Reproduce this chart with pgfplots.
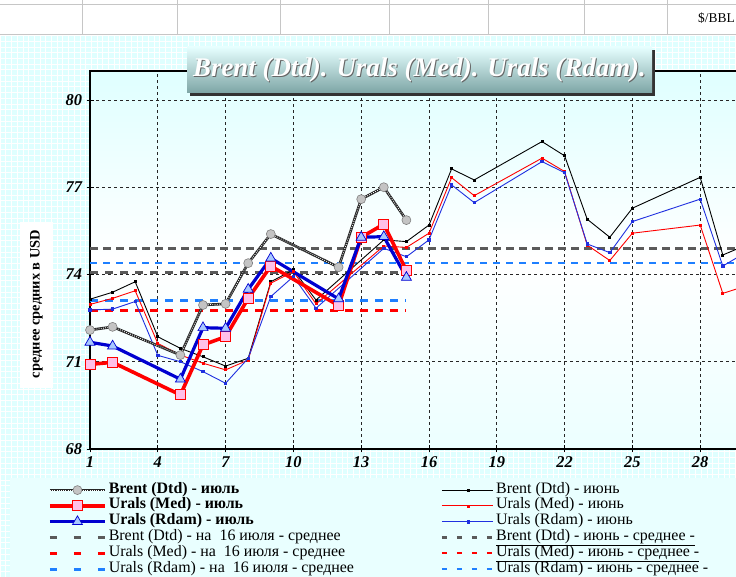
\documentclass[border=0pt]{standalone}
\usepackage{pgfplots}
\pgfplotsset{compat=1.18}
\usepackage{pgfplotstable}
\usepackage{fontspec}
\setmainfont{Liberation Serif}
\definecolor{bgc}{HTML}{DFFFFF}
\definecolor{dblue}{HTML}{1E7FFF}
\definecolor{dgrey}{HTML}{5A5A5A}
\definecolor{pinkf}{HTML}{FFC0E8}
\definecolor{tribl}{HTML}{A8C8FF}
\definecolor{lgrey}{HTML}{C4C4C4}
\definecolor{thickblue}{HTML}{0000D0}
\definecolor{thinblue}{HTML}{2030E0}

\pgfplotstableread{
d b m r
1 72.09 70.91 71.67
2 72.20 70.98 71.54
5 71.23 69.86 70.40
6 72.95 71.58 72.17
7 72.99 71.86 72.15
8 74.39 73.18 73.49
9 75.39 74.29 74.56
12 74.25 72.93 73.16
13 76.59 75.28 75.28
14 77.00 75.73 75.30
15 75.87 74.13 73.90
}\july

\pgfplotstableread{
d b m r
1 73.15 72.97 72.78
2 73.39 73.18 72.81
3 73.75 73.44 73.07
4 71.86 71.63 71.22
5 71.46 71.23 71.00
6 71.17 70.95 70.66
7 70.85 70.72 70.26
8 71.12 71.06 71.12
9 73.75 73.70 73.24
10 74.16 74.10 73.93
11 73.12 72.99 72.84
14 75.19 74.98 74.90
15 75.13 74.93 74.61
16 75.70 75.42 75.19
17 77.63 77.33 77.08
18 77.25 76.71 76.47
21 78.57 78.00 77.88
22 78.08 77.54 77.50
23 75.90 75.01 75.05
24 75.28 74.48 74.75
25 76.28 75.42 75.82
28 77.34 75.70 76.59
29 74.67 73.35 74.29
30 75.00 73.60 74.75
}\june

\begin{document}
\begin{tikzpicture}[x=1bp,y=1bp]
\useasboundingbox (0,0) rectangle (736,577);
\clip (0,0) rectangle (736,577);
% spreadsheet strip
\fill[white] (0,542) rectangle (736,577);
\draw[gray!45, line width=0.8bp] (0,573) -- (736,573) (0,543) -- (736,543);
\foreach \xx in {82,177,280,389,488,584,667} {\draw[gray!45, line width=0.8bp] (\xx,543) -- (\xx,577);}
\node[anchor=east, inner sep=1bp, font=\fontsize{13.5}{15}\selectfont] at (736,559) {\$/BBL};
% background
\fill[bgc] (0,0) rectangle (736,542);
\draw[white, line width=0.6bp, step=5.7bp] (0,0) grid (736,542);
% legend box
\fill[bgc!70!white] (10,0) rectangle (736,99);
% ylabel box
\fill[white] (20,189) rectangle (53,355);
\node[rotate=90, font=\fontsize{14.5}{15}\bfseries\selectfont] at (36.5,273) {среднее средних в USD};

\begin{axis}[
  at={(90bp,128bp)}, anchor=south west,
  scale only axis, width=678bp, height=378.1bp,
  xmin=1, xmax=31, ymin=68, ymax=81,
  xtick={1,4,...,28}, ytick={68,71,74,77,80},
  xtick pos=bottom, ytick pos=left,
  grid=major,
  major grid style={black!85, dash pattern=on 3bp off 3bp, line width=0.9bp},
  axis line style={black, line width=1.4bp},
  tick style={black, line width=0.9bp}, major tick length=7bp, tick align=center,
  axis background/.style={top color=bgc, bottom color=bgc!60!white, middle color=white},
  ticklabel style={font=\fontsize{16.5}{17}\bfseries\itshape\selectfont},
  /pgf/number format/assume math mode=true,
  xticklabel style={yshift=-1bp},
  yticklabel style={xshift=-1bp},
  legend style={at={(-0.0664,-0.082)}, anchor=north west, draw=none, fill=none,
    font=\fontsize{16}{16}\selectfont, row sep=0pt,
    nodes={inner sep=0pt, text height=11bp, text depth=4.8bp},
    /tikz/every even column/.append style={column sep=4bp}},
  legend columns=6, transpose legend, legend cell align=left,
]
% legend entries
\addlegendimage{legend image code/.code={
  \draw[black!85, line width=2.6bp] (0,0) -- (55bp,0);
  \draw[white, line width=1bp, dash pattern=on 0.7bp off 1.5bp] (0,0) -- (55bp,0);
  \draw[gray, fill=lgrey, line width=0.6bp] (27.5bp,0) circle (4.5bp);}}
\addlegendentry{\makebox[330bp][l]{\hspace{2bp}\bfseries Brent (Dtd) - июль}}
\addlegendimage{legend image code/.code={
  \draw[red, line width=3.6bp] (0,0) -- (55bp,0);
  \draw[red, fill=pinkf, line width=0.8bp] (22.5bp,-5bp) rectangle (32.5bp,5bp);}}
\addlegendentry{\makebox[330bp][l]{\hspace{2bp}\bfseries Urals (Med) - июль}}
\addlegendimage{legend image code/.code={
  \draw[thickblue, line width=3.2bp] (0,0) -- (55bp,0);
  \draw[thickblue, fill=tribl, line width=0.7bp] (27.5bp,5.8bp) -- (22.5bp,-2.9bp) -- (32.5bp,-2.9bp) -- cycle;}}
\addlegendentry{\makebox[330bp][l]{\hspace{2bp}\bfseries Urals (Rdam) - июль}}
\addlegendimage{legend image code/.code={
  \draw[dgrey, line width=3bp, dash pattern=on 7bp off 17bp] (0,0) -- (55bp,0);}}
\addlegendentry{\makebox[330bp][l]{\hspace{2bp}Brent (Dtd) - на\ \ 16 июля - среднее}}
\addlegendimage{legend image code/.code={
  \draw[red, line width=3bp, dash pattern=on 7bp off 17bp] (0,0) -- (55bp,0);}}
\addlegendentry{\makebox[330bp][l]{\hspace{2bp}Urals (Med) - на\ \ 16 июля - среднее}}
\addlegendimage{legend image code/.code={
  \draw[dblue, line width=3bp, dash pattern=on 7bp off 17bp] (0,0) -- (55bp,0);}}
\addlegendentry{\makebox[330bp][l]{\hspace{2bp}Urals (Rdam) - на\ \ 16 июля - среднее}}
\addlegendimage{legend image code/.code={
  \draw[black, line width=0.9bp] (0,0) -- (51bp,0);
  \fill[black] (25bp,-1bp) rectangle (27bp,1bp);}}
\addlegendentry{\hspace{2bp}Brent (Dtd) - июнь}
\addlegendimage{legend image code/.code={
  \draw[red, line width=0.9bp] (0,0) -- (51bp,0);
  \fill[red] (25bp,-1bp) rectangle (27bp,1bp);}}
\addlegendentry{\hspace{2bp}Urals (Med) - июнь}
\addlegendimage{legend image code/.code={
  \draw[thinblue, line width=0.9bp] (0,0) -- (51bp,0);
  \fill[thinblue] (25bp,-1.2bp) rectangle (27.4bp,1.2bp);}}
\addlegendentry{\hspace{2bp}Urals (Rdam) - июнь}
\addlegendimage{legend image code/.code={
  \draw[dgrey, line width=2.4bp, dash pattern=on 5bp off 10bp] (0,0) -- (51bp,0);}}
\addlegendentry{\hspace{2bp}\underline{Brent (Dtd) - июнь - среднее -}}
\addlegendimage{legend image code/.code={
  \draw[red, line width=2.4bp, dash pattern=on 5bp off 10bp] (0,0) -- (51bp,0);}}
\addlegendentry{\hspace{2bp}\underline{Urals (Med) - июнь - среднее -}}
\addlegendimage{legend image code/.code={
  \draw[dblue, line width=2.4bp, dash pattern=on 5bp off 10bp] (0,0) -- (51bp,0);}}
\addlegendentry{\hspace{2bp}\underline{Urals (Rdam) - июнь - среднее -}}

% June averages
\addplot[forget plot, red, line width=2.4bp, dash pattern=on 6.5bp off 6.5bp] coordinates {(1,74.39) (31,74.39)};
\addplot[forget plot, dblue, line width=2.4bp, dash pattern=on 6.5bp off 6.5bp] coordinates {(1,74.39) (31,74.39)};
\addplot[forget plot, dgrey, line width=2.6bp, dash pattern=on 8bp off 5bp] coordinates {(1,74.90) (31,74.90)};
% July averages
\addplot[forget plot, dgrey, line width=3.2bp, dash pattern=on 8bp off 7bp] coordinates {(1,74.06) (15,74.06)};
\addplot[forget plot, dblue, line width=3bp, dash pattern=on 8bp off 7bp] coordinates {(1,73.09) (15,73.09)};
\addplot[forget plot, red, line width=3bp, dash pattern=on 8bp off 7bp] coordinates {(1,72.76) (15,72.76)};
% June series
\addplot[forget plot, black, line width=0.9bp, mark=square*, mark size=1bp] table[x=d, y=b] {\june};
\addplot[forget plot, red, line width=0.9bp, mark=square*, mark size=1bp] table[x=d, y=m] {\june};
\addplot[forget plot, thinblue, line width=0.9bp, mark=square*, mark size=1.2bp] table[x=d, y=r] {\june};
% July series
\addplot[forget plot, black!85, line width=2.6bp] table[x=d, y=b] {\july};
\addplot[forget plot, white, line width=1bp, dash pattern=on 0.7bp off 1.5bp] table[x=d, y=b] {\july};
\addplot[forget plot, only marks, mark=*, mark size=4.5bp, mark options={draw=gray, fill=lgrey, line width=0.6bp}] table[x=d, y=b] {\july};
\addplot[forget plot, red, line width=3.6bp, mark=square*, mark size=5bp, mark options={draw=red, fill=pinkf, line width=0.8bp}] table[x=d, y=m] {\july};
\addplot[forget plot, thickblue, line width=3.2bp, mark=triangle*, mark size=5.8bp, mark options={draw=thickblue, fill=tribl, line width=0.7bp}] table[x=d, y=r] {\july};
\end{axis}

% title box
\fill[black!80] (190,481) rectangle (655,527);
\shade[top color={rgb,255:red,230;green,255;blue,255}, bottom color={rgb,255:red,125;green,165;blue,165}] (187,484) rectangle (652,530);
\node[text=black!60, font=\fontsize{27}{29}\bfseries\itshape\selectfont] at (420.5,505.5) {Brent (Dtd). Urals (Med). Urals (Rdam).};
\node[text=white, font=\fontsize{27}{29}\bfseries\itshape\selectfont] at (419.5,506.5) {Brent (Dtd). Urals (Med). Urals (Rdam).};
\end{tikzpicture}
\end{document}
